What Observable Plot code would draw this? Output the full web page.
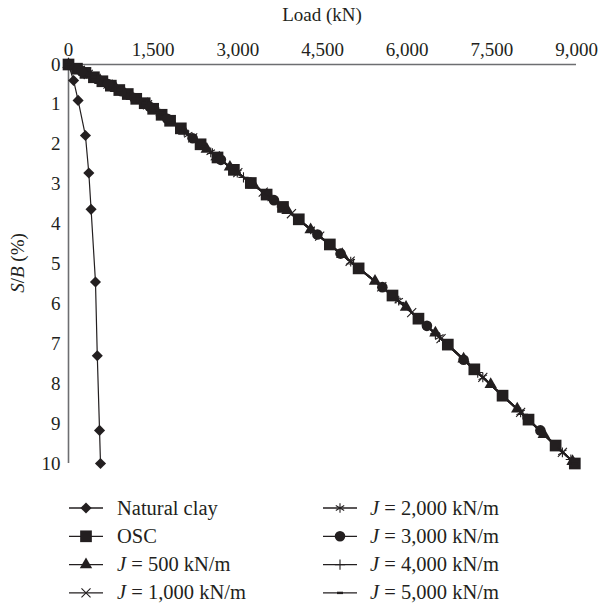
<!DOCTYPE html>
<html><head><meta charset="utf-8">
<script src="https://cdn.jsdelivr.net/npm/d3@7"></script>
<script src="https://cdn.jsdelivr.net/npm/@observablehq/plot@0.6"></script>
<style>
body{margin:0;background:#fff;}
#chart{width:599px;height:605px;position:relative;font-family:"Liberation Serif",serif;color:#231f20;}
#chart svg{display:block;}
</style></head><body><div id="chart"></div>
<script>
// ---- data (Load in kN, S/B in %) ----
const xTicks = [0, 1500, 3000, 4500, 6000, 7500, 9000];
const yTicks = [0, 1, 2, 3, 4, 5, 6, 7, 8, 9, 10];
const seriesNames = ["Natural clay", "OSC", "J = 500 kN/m", "J = 1,000 kN/m", "J = 2,000 kN/m", "J = 3,000 kN/m", "J = 4,000 kN/m", "J = 5,000 kN/m"];

const naturalClayLoad = [0, 90, 170, 300, 360, 400, 478, 510, 550, 567];
const naturalClaySB   = [0, 0.40, 0.90, 1.78, 2.72, 3.63, 5.45, 7.30, 9.17, 10.0];

const oscLoad = [0, 150, 300, 450, 600, 750, 900, 1050, 1200, 1350, 1500, 1650, 1800, 1990, 2340, 2640, 2930, 3230, 3510, 3800, 4080, 4630, 5140, 5740, 6200, 6720, 7190, 7690, 8150, 8630, 8970];
const oscSB   = [0, 0.105, 0.21, 0.32, 0.42, 0.53, 0.64, 0.74, 0.86, 0.97, 1.11, 1.26, 1.41, 1.60, 2.00, 2.33, 2.64, 2.97, 3.26, 3.57, 3.88, 4.51, 5.11, 5.79, 6.37, 7.02, 7.64, 8.30, 8.90, 9.55, 10.0];

const j500Load = [0, 280, 560, 840, 1120, 1400, 1700, 2050, 2450, 2860, 3280, 3880, 4290, 4850, 5430, 5980, 6500, 7000, 7480, 7950, 8420, 8930];
const j500SB   = [0, 0.20, 0.40, 0.60, 0.80, 1.00, 1.30, 1.67, 2.12, 2.57, 3.02, 3.66, 4.14, 4.76, 5.43, 6.08, 6.73, 7.38, 8.02, 8.63, 9.27, 9.95];

const j1000Load = [0, 350, 700, 1050, 1400, 1800, 2200, 2600, 3000, 3450, 3950, 4450, 4990, 5550, 6080, 6600, 7340, 8010, 8750];
const j1000SB   = [0, 0.25, 0.49, 0.75, 1.01, 1.41, 1.84, 2.29, 2.71, 3.20, 3.74, 4.30, 4.93, 5.57, 6.22, 6.87, 7.84, 8.72, 9.72];

const j2000Load = [0, 320, 640, 960, 1280, 1620, 2120, 2520, 2990, 3600, 4290, 5000, 5850, 6570, 7340, 8010, 8750];
const j2000SB   = [0, 0.23, 0.45, 0.68, 0.92, 1.23, 1.76, 2.20, 2.71, 3.36, 4.13, 4.94, 5.92, 6.83, 7.84, 8.72, 9.72];

const j3000Load = [0, 230, 470, 700, 940, 1170, 1440, 1750, 2200, 2700, 3220, 3640, 4410, 4820, 5560, 6350, 7000, 7690, 8360, 8960];
const j3000SB   = [0, 0.16, 0.33, 0.49, 0.67, 0.84, 1.06, 1.36, 1.85, 2.39, 2.96, 3.40, 4.26, 4.74, 5.58, 6.55, 7.40, 8.30, 9.17, 9.99];

const j4000Load = [0, 400, 800, 1200, 1600, 2050, 2550, 3100, 3700, 4350, 5050, 5800, 6500, 7250, 8050, 8900];
const j4000SB   = [0, 0.28, 0.56, 0.85, 1.20, 1.67, 2.23, 2.83, 3.46, 4.20, 5.00, 5.86, 6.75, 7.72, 8.77, 9.90];

const j5000Load = [0, 450, 900, 1350, 1850, 2400, 3000, 3650, 4350, 5100, 5900, 6700, 7500, 8350, 8970];
const j5000SB   = [0, 0.31, 0.64, 0.97, 1.46, 2.06, 2.72, 3.42, 4.20, 5.06, 5.98, 7.00, 8.05, 9.17, 10.0];

// ---- build table ----
const loads = [naturalClayLoad, oscLoad, j500Load, j1000Load, j2000Load, j3000Load, j4000Load, j5000Load];
const sbs   = [naturalClaySB, oscSB, j500SB, j1000SB, j2000SB, j3000SB, j4000SB, j5000SB];
const rows = [];
seriesNames.forEach((name, i) => loads[i].forEach((L, k) => rows.push({series: name, load: L, sb: sbs[i][k]})));

// custom dash symbol
const dash = {draw(ctx, size) { const w = Math.sqrt(size) * 0.5, h = w * 0.4; ctx.moveTo(-w, -h); ctx.lineTo(w, -h); ctx.lineTo(w, h); ctx.lineTo(-w, h); ctx.closePath(); }};

const styles = [
  {symbol: "diamond2", r: 5, fill: "#231f20", stroke: "none"},
  {symbol: "square", r: 6.6, fill: "#231f20", stroke: "none"},
  {symbol: "triangle", r: 4.6, fill: "#231f20", stroke: "none"},
  {symbol: "times", r: 4.2, fill: "none", stroke: "#231f20"},
  {symbol: "asterisk", r: 4.6, fill: "none", stroke: "#231f20"},
  {symbol: "circle", r: 5.3, fill: "#231f20", stroke: "none"},
  {symbol: "plus", r: 3.4, fill: "none", stroke: "#231f20"},
  {symbol: dash, r: 3.4, fill: "#231f20", stroke: "none"}
];

const W = 599, H = 480;
const marks = [
  Plot.ruleY([0], {stroke: "#6d6e71", strokeWidth: 1.6}),
  Plot.ruleX([0], {stroke: "#6d6e71", strokeWidth: 1.6})
];
seriesNames.forEach((name, i) => {
  const d = rows.filter(r => r.series === name);
  marks.push(Plot.line(d, {x: "load", y: "sb", stroke: "#231f20", strokeWidth: i === 0 ? 1.2 : 1.7}));
});
seriesNames.forEach((name, i) => {
  const d = rows.filter(r => r.series === name);
  const s = styles[i];
  marks.push(Plot.dot(d, {x: "load", y: "sb", symbol: () => s.symbol, r: s.r, fill: s.fill, stroke: s.stroke, strokeWidth: 1.1}));
});

const plot = Plot.plot({
  width: W, height: H,
  marginLeft: 68, marginRight: 23, marginTop: 64, marginBottom: 17,
  style: {fontFamily: "Liberation Serif, serif", fontSize: "19px", color: "#231f20", background: "#fff"},
  symbol: {type: "identity"},
  x: {domain: [0, 9000], axis: null},
  y: {domain: [0, 10], reverse: true, axis: null},
  marks: [
    Plot.axisX({anchor: "top", ticks: xTicks, tickFormat: d3.format(","), tickSize: 0, tickPadding: 9, label: null, fill: "#231f20"}),
    Plot.axisY({anchor: "left", ticks: yTicks, tickSize: 0, tickPadding: 8, label: null, fill: "#231f20"}),
    ...marks
  ]
});
const chart = document.getElementById("chart");
chart.appendChild(plot);

const svg = d3.select(plot);
svg.append("text").attr("x", 322).attr("y", 21).attr("text-anchor", "middle")
  .attr("font-size", 19).attr("fill", "#231f20").text("Load (kN)");
const yl = svg.append("text").attr("transform", "translate(24,263) rotate(-90)").attr("text-anchor", "middle")
  .attr("font-size", 19).attr("fill", "#231f20");
yl.append("tspan").attr("font-style", "italic").text("S");
yl.append("tspan").text("/");
yl.append("tspan").attr("font-style", "italic").text("B");
yl.append("tspan").text(" (%)");

// ---- legend ----
const leg = d3.select(chart).append("svg").attr("width", W).attr("height", 125)
  .style("font-family", "Liberation Serif, serif");
const d3sym = {diamond2: d3.symbolDiamond2, square: d3.symbolSquare, triangle: d3.symbolTriangle, times: d3.symbolTimes, asterisk: d3.symbolAsterisk, circle: d3.symbolCircle, plus: d3.symbolPlus};
seriesNames.forEach((name, i) => {
  const col = i < 4 ? 0 : 1, row = i % 4;
  const x0 = col === 0 ? 69 : 323, tx = col === 0 ? 117 : 370;
  const cy = 28 + row * 28.3;
  const g = leg.append("g");
  g.append("line").attr("x1", x0).attr("x2", x0 + 34).attr("y1", cy).attr("y2", cy).attr("stroke", "#231f20").attr("stroke-width", 1.3);
  const s = styles[i];
  const type = typeof s.symbol === "string" ? d3sym[s.symbol] : s.symbol;
  g.append("path").attr("transform", `translate(${x0 + 17},${cy})`)
    .attr("d", d3.symbol(type, Math.PI * s.r * s.r)())
    .attr("fill", s.fill).attr("stroke", s.stroke).attr("stroke-width", 1.1);
  const t = g.append("text").attr("x", tx).attr("y", cy + 6.5).attr("font-size", 20.5).attr("fill", "#231f20");
  if (name.startsWith("J")) {
    t.append("tspan").attr("font-style", "italic").text("J");
    t.append("tspan").text(name.slice(1));
  } else t.text(name);
});
</script>
</body></html>
